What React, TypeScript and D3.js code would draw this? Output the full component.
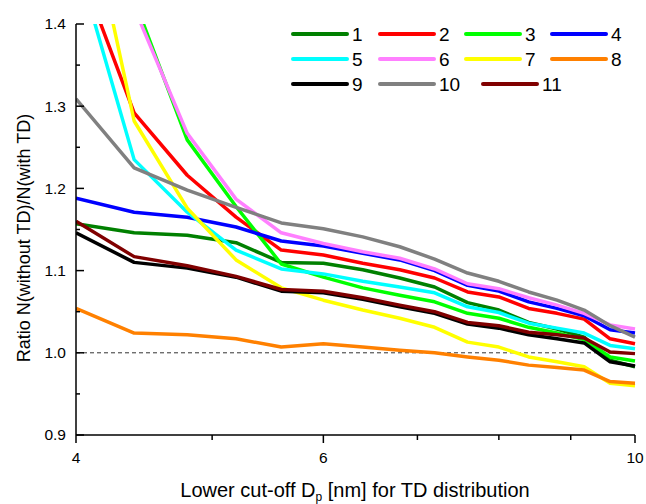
import React from "react";
import * as d3 from "d3";

const xValues = [4.0, 4.4, 4.8, 5.2, 5.6, 6.0, 6.4, 6.8, 7.2, 7.6, 8.0, 8.4, 8.8, 9.2, 9.6, 10.0];

const s1 = [1.157, 1.146, 1.143, 1.134, 1.110, 1.109, 1.101, 1.091, 1.080, 1.061, 1.052, 1.037, 1.029, 1.019, 0.991, 0.983];
const s2 = [1.48, 1.292, 1.216, 1.165, 1.125, 1.119, 1.109, 1.101, 1.091, 1.074, 1.068, 1.054, 1.048, 1.041, 1.017, 1.011];
const s3 = [1.62, 1.43, 1.259, 1.178, 1.108, 1.092, 1.079, 1.070, 1.062, 1.048, 1.042, 1.031, 1.024, 1.016, 0.995, 0.990];
const s4 = [1.188, 1.171, 1.165, 1.153, 1.136, 1.130, 1.121, 1.113, 1.100, 1.082, 1.075, 1.062, 1.054, 1.045, 1.028, 1.024];
const s5 = [1.48, 1.235, 1.171, 1.125, 1.102, 1.096, 1.087, 1.080, 1.073, 1.056, 1.049, 1.036, 1.030, 1.024, 1.009, 1.005];
const s6 = [1.62, 1.42, 1.267, 1.187, 1.146, 1.133, 1.123, 1.115, 1.102, 1.084, 1.078, 1.067, 1.058, 1.048, 1.034, 1.029];
const s7 = [1.61, 1.282, 1.176, 1.113, 1.079, 1.064, 1.052, 1.042, 1.031, 1.013, 1.007, 0.995, 0.989, 0.983, 0.963, 0.960];
const s8 = [1.054, 1.024, 1.022, 1.017, 1.007, 1.011, 1.007, 1.003, 1.000, 0.995, 0.991, 0.985, 0.982, 0.979, 0.965, 0.963];
const s9 = [1.146, 1.110, 1.103, 1.092, 1.075, 1.073, 1.065, 1.056, 1.048, 1.035, 1.030, 1.022, 1.017, 1.012, 0.989, 0.984];
const s10 = [1.309, 1.225, 1.198, 1.177, 1.158, 1.151, 1.141, 1.129, 1.114, 1.097, 1.087, 1.074, 1.064, 1.052, 1.033, 1.019];
const s11 = [1.160, 1.117, 1.106, 1.093, 1.077, 1.075, 1.067, 1.058, 1.050, 1.037, 1.033, 1.025, 1.022, 1.018, 1.001, 0.999];

const seriesNames = ["1", "2", "3", "4", "5", "6", "7", "8", "9", "10", "11"];
const seriesValues = [s1, s2, s3, s4, s5, s6, s7, s8, s9, s10, s11];
const seriesColors = ["#008000", "#FF0000", "#00FF00", "#0000FF", "#00FFFF", "#FF80FF", "#FFFF00", "#FF8000", "#000000", "#808080", "#800000"];

const xMajorTicks = [4, 6, 10];
const xMinorTicks = [5, 7, 8, 9];
const yMajorTicks = [0.9, 1.0, 1.1, 1.2, 1.3, 1.4];
const yMinorTicks = [0.95, 1.05, 1.15, 1.25, 1.35];

const W = 646;
const H = 504;
const left = 76;
const right = 635;
const top = 24;
const bottom = 435;

// legend layout (positions only)
const legendCols = [293, 380, 466, 552];
const legendRows = [34, 59, 84];
const legendRow3Cols = [293, 380, 483];

export default function App() {
  const x = d3.scaleLog().domain([4, 10]).range([left, right]);
  const y = d3.scaleLinear().domain([0.9, 1.4]).range([bottom, top]);
  const line = d3
    .line<number>()
    .x((_, i) => x(xValues[i]))
    .y((d) => y(d));

  const font = "Arial, 'Liberation Sans', sans-serif";

  return (
    <svg width={W} height={H} style={{ position: "absolute", left: 0, top: 0, background: "#fff" }} fontFamily={font}>
      <defs>
        <clipPath id="plotClip">
          <rect x={left} y={top} width={right - left + 2} height={bottom - top} />
        </clipPath>
      </defs>
      <rect x={0} y={0} width={W} height={H} fill="#fff" />

      {/* reference dashed line at 1.0 */}
      <line x1={left} x2={right} y1={y(1.0)} y2={y(1.0)} stroke="#333" strokeWidth={1} strokeDasharray="4,3" />

      <g clipPath="url(#plotClip)">
        {seriesValues.map((vals, i) => (
          <path
            key={seriesNames[i]}
            d={line(vals) || ""}
            fill="none"
            stroke={seriesColors[i]}
            strokeWidth={3.5}
            strokeLinejoin="round"
          />
        ))}
      </g>

      {/* axes */}
      <line x1={left} x2={left} y1={top} y2={bottom} stroke="#000" strokeWidth={1.5} />
      <line x1={left} x2={right} y1={bottom} y2={bottom} stroke="#000" strokeWidth={1.5} />

      {yMajorTicks.map((t) => (
        <g key={"ym" + t}>
          <line x1={left} x2={left + 8} y1={y(t)} y2={y(t)} stroke="#000" strokeWidth={1.5} />
          <text x={left - 10} y={y(t)} dy="0.35em" textAnchor="end" fontSize={15.5}>
            {d3.format(".1f")(t)}
          </text>
        </g>
      ))}
      {yMinorTicks.map((t) => (
        <line key={"yn" + t} x1={left} x2={left + 4} y1={y(t)} y2={y(t)} stroke="#000" strokeWidth={1.5} />
      ))}

      {xMajorTicks.map((t) => (
        <g key={"xm" + t}>
          <line x1={x(t)} x2={x(t)} y1={bottom} y2={bottom + 8} stroke="#000" strokeWidth={1.5} />
          <text x={x(t)} y={463} textAnchor="middle" fontSize={15.5}>
            {t}
          </text>
        </g>
      ))}
      {xMinorTicks.map((t) => (
        <line key={"xn" + t} x1={x(t)} x2={x(t)} y1={bottom} y2={bottom + 5} stroke="#000" strokeWidth={1.5} />
      ))}

      {/* axis titles */}
      <text x={355} y={497} textAnchor="middle" fontSize={20}>
        Lower cut-off D
        <tspan fontSize={12} dy={4}>p</tspan>
        <tspan dy={-4}> [nm] for TD distribution</tspan>
      </text>
      <text transform={`translate(30, 238) rotate(-90)`} textAnchor="middle" fontSize={18}>
        Ratio N(without TD)/N(with TD)
      </text>

      {/* legend */}
      {seriesNames.map((name, i) => {
        const row = Math.floor(i / 4);
        const col = i % 4;
        const lx = row === 2 ? legendRow3Cols[col] : legendCols[col];
        const ly = legendRows[row];
        return (
          <g key={"lg" + name}>
            <line x1={lx} x2={lx + 54} y1={ly} y2={ly} stroke={seriesColors[i]} strokeWidth={4} strokeLinecap="round" />
            <text x={lx + 59} y={ly} dy="0.36em" fontSize={19}>
              {name}
            </text>
          </g>
        );
      })}
    </svg>
  );
}
